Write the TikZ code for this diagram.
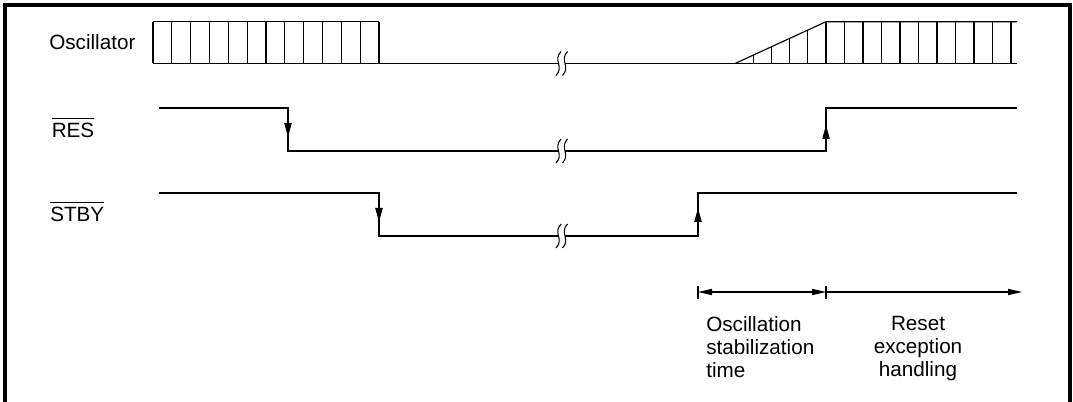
\documentclass[tikz,border=0pt]{standalone}
\usepackage{fontspec}
\setmainfont{Liberation Sans}
\usetikzlibrary{arrows.meta}
\newcommand\myovl[1]{\vbox{\hrule height 0.7pt\kern 3.2pt\hbox{#1}}}
\begin{document}
\begin{tikzpicture}[x=0.75pt,y=-0.75pt,
  sig/.style={line width=0.85pt, line join=miter},
  frame/.style={line width=2.4pt},
  lbl/.style={font=\fontsize{15.5}{17.25}\selectfont, inner sep=0pt},
  edgetip/.style={-{Triangle[length=10.5pt,width=5.5pt]}},
  dimtip/.style={{Triangle[length=10.5pt,width=4.6pt]}-{Triangle[length=10.5pt,width=4.6pt]}},
  dimtipr/.style={-{Triangle[length=10.5pt,width=4.6pt]}},
  brk/.pic={
    \draw[line width=0.8pt] (2.5,-12) .. controls (-6,-3) and (6,3) .. (-2.5,12);
    \draw[line width=0.8pt] (9,-12) .. controls (0.5,-3) and (12.5,3) .. (4,12);
  }]
\clip (0,0) rectangle (1073,402);
\fill[white] (0,0) rectangle (1073,402);
% frame
\draw[frame] (5,420) -- (5,5) -- (1070,5) -- (1070,420);

% labels
\node[lbl, anchor=base west] (osc) at (49,50) {Oscillator};
\node[lbl, anchor=base west] (res) at (51.5,138) {\myovl{RES}};
\node[lbl, anchor=base west] (stby) at (50,222) {\myovl{STBY}};

% oscillator
\draw[sig] (153,21.7) -- (379,21.7);
\foreach \i in {0,...,12} \draw[sig] ({153+\i*18.833},21.7) -- ++(0,41.8);
\draw[sig] (153,63.5) -- (558.5,63.5);
\draw[sig] (565,63.5) -- (1017,63.5);
\draw[sig] (735,63.5) -- (826,21.7) -- (1017,21.7);
\foreach \i in {1,...,4} \draw[sig] ({735+\i*18.2},63.5) -- ({735+\i*18.2},{63.5-\i*18.2*41.8/91});
\foreach \i in {0,...,10} \draw[sig] ({826+\i*18.5},21.7) -- ++(0,41.8);
\pic at (558.5,63.5) {brk};

% RES
\draw[sig] (159,108) -- (288,108) -- (288,151) -- (558.5,151);
\draw[sig] (565,151) -- (826,151) -- (826,108) -- (1017,108);
\draw[sig, edgetip] (288,122) -- (288,137);
\draw[sig, edgetip] (826,140) -- (826,125);
\pic at (558.5,151) {brk};

% STBY
\draw[sig] (159,193) -- (379,193) -- (379,236) -- (558.5,236);
\draw[sig] (565,236) -- (698,236) -- (698,193) -- (1017,193);
\draw[sig, edgetip] (379,207) -- (379,222);
\draw[sig, edgetip] (698,223) -- (698,208);
\pic at (558.5,236) {brk};

% timing dimensions
\coordinate (d0) at (698,292);
\coordinate (d1) at (826,292);
\coordinate (d2) at (1022,292);
\draw[sig] (698,286) -- (698,299);
\draw[sig] (826,286) -- (826,299);
\draw[sig, dimtip] (d0) -- (d1);
\draw[sig, dimtipr] (d1) -- (d2);

\node[lbl, anchor=north west, align=left] (ost) at (706,316) {Oscillation\\stabilization\\time};
\node[lbl, anchor=north, align=center] (reh) at (918,316) {Reset\\exception\\handling};
\end{tikzpicture}
\end{document}
